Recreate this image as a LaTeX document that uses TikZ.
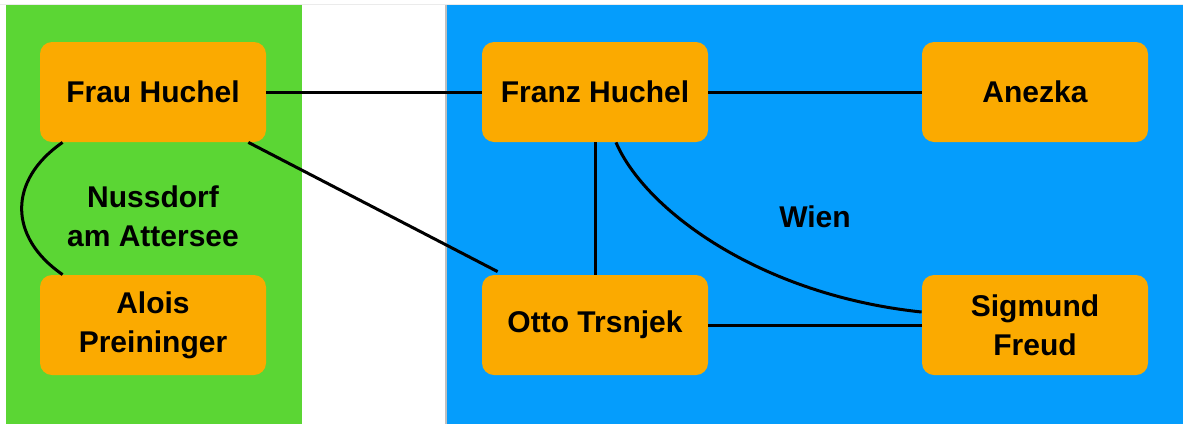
\documentclass[tikz,border=0pt]{standalone}
\usepackage{fontspec}
\setmainfont{Liberation Sans}
\definecolor{gruen}{RGB}{91,214,52}
\definecolor{blau}{RGB}{5,157,252}
\definecolor{kasten}{RGB}{251,170,0}
\tikzset{
  person/.style={fill=kasten,rounded corners=6pt,minimum width=113pt,minimum height=50pt,
    align=center,inner sep=0pt},
  ort/.style={align=center},
  verb/.style={line width=1.5pt}
}
\begin{document}
\begin{tikzpicture}[x=0.5pt,y=-0.5pt,font=\fontsize{15}{19.5}\selectfont\bfseries]
\useasboundingbox (0,0) rectangle (1183,424);
\fill[white] (0,0) rectangle (1183,424);
\draw[black!8,line width=0.8pt] (0,4.5) -- (1183,4.5);
% Regionen
\fill[gruen] (6,5) rectangle (302,424);
\fill[blau] (446,5) rectangle (1183,424);
\draw[black!25,line width=0.6pt] (446,5) -- (446,424);
% Personen
\node[person] (frau) at (153,92) {Frau Huchel};
\node[person] (alois) at (153,325) {Alois\\Preininger};
\node[person] (franz) at (595,92) {Franz Huchel};
\node[person] (anezka) at (1035,92) {Anezka};
\node[person] (otto) at (595,325) {Otto Trsnjek};
\node[person] (freud) at (1035,325) {Sigmund\\Freud};
% Orte
\node[ort] (nussdorf) at (153,216) {Nussdorf\\am Attersee};
\node[ort] (wien) at (815,217) {Wien};
% Verbindungen
\draw[verb] (frau.east) -- (franz.west);
\draw[verb] (franz.east) -- (anezka.west);
\draw[verb] (franz.south) -- (otto.north);
\draw[verb] (otto.east) -- (freud.west);
\draw[verb] ([xshift=-9pt]frau.south east) -- ([xshift=8pt,yshift=1.5pt]otto.north west);
\draw[verb] ([xshift=11.5pt]frau.south west) .. controls (8,180) and (8,237) .. ([xshift=11.5pt]alois.north west);
\draw[verb] ([xshift=10.5pt]franz.south) .. controls (645,210) and (760,295) .. ([yshift=6.5pt]freud.west);
\end{tikzpicture}
\end{document}
